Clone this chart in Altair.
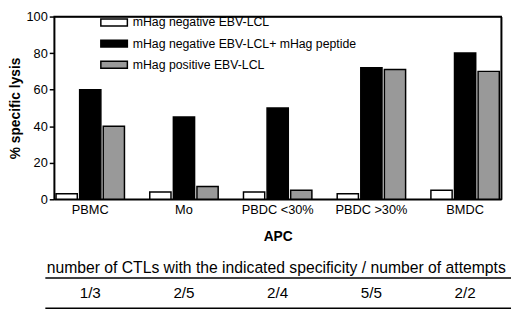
import altair as alt
import pandas as pd

categories = ["PBMC", "Mo", "PBDC <30%", "PBDC >30%", "BMDC"]
series = ["mHag negative EBV-LCL", "mHag negative EBV-LCL+ mHag peptide", "mHag positive EBV-LCL"]
neg_lcl = [3, 4, 4, 3, 5]
neg_lcl_peptide = [60, 45, 50, 72, 80]
pos_lcl = [40, 7, 5, 71, 70]
ctl_counts = ["1/3", "2/5", "2/4", "5/5", "2/2"]
y_ticks = [0, 20, 40, 60, 80, 100]
header = "number of CTLs with the indicated specificity / number of attempts"
colors = ["white", "black", "#999999"]

rows = []
for s, vals in zip(series, [neg_lcl, neg_lcl_peptide, pos_lcl]):
    for c, v in zip(categories, vals):
        rows.append({"APC": c, "series": s, "lysis": v})
df = pd.DataFrame(rows)
ctl_df = pd.DataFrame({"APC": categories, "ctl": ctl_counts})
head_df = pd.DataFrame({"t": [header]})

FONT = "Liberation Sans"
W, H = 455, 186

x_scale = alt.Scale(domain=categories, paddingInner=0.27, paddingOuter=0.02)
y_scale = alt.Scale(domain=[0, 100])
x_axis = alt.Axis(title="APC", labelAngle=0, ticks=False, labelPadding=4,
                  titlePadding=14, labelFontSize=13, titleFontSize=14,
                  titleFontWeight="bold", domainWidth=1.5, domainColor="black",
                  labelColor="black", titleColor="black", grid=False)
y_axis = alt.Axis(title="% specific lysis", values=y_ticks, tickSize=5,
                  labelPadding=2, titlePadding=4, labelFontSize=13,
                  titleFontSize=14, titleFontWeight="bold", domainWidth=1.5,
                  tickWidth=1.5, domainColor="black", tickColor="black",
                  labelColor="black", titleColor="black", grid=False)
frame_axis = alt.Axis(orient="right", title=None, labels=False, ticks=False,
                      values=[100], grid=True, gridColor="black", gridWidth=1.5,
                      gridOpacity=1, domain=True, domainColor="black", domainWidth=1.5)

bars = alt.Chart(df).mark_bar(stroke="black", strokeWidth=1.5).encode(
    x=alt.X("APC:N", sort=categories, scale=x_scale, axis=x_axis),
    xOffset=alt.XOffset("series:N", sort=series,
                        scale=alt.Scale(domain=series, paddingInner=0.1, paddingOuter=0)),
    y=alt.Y("lysis:Q", scale=y_scale, axis=y_axis),
    fill=alt.Fill("series:N", sort=series,
                  scale=alt.Scale(domain=series, range=colors),
                  legend=alt.Legend(title=None, orient="none", legendX=50, legendY=-5,
                                    symbolType="M-1.35,-0.35H1.35V0.35H-1.35Z",
                                    symbolSize=400, symbolStrokeColor="black",
                                    symbolStrokeWidth=1.5, labelFontSize=12.5,
                                    labelOffset=8, rowPadding=3.5, labelColor="black",
                                    labelLimit=400, labelFont=FONT)),
)

frame = alt.Chart(head_df).mark_point(opacity=0).encode(
    x=alt.value(0),
    y=alt.Y(datum=0, type="quantitative", scale=y_scale, axis=frame_axis),
)

ctl_text = alt.Chart(ctl_df).mark_text(fontSize=15.5, font=FONT, color="black").encode(
    x=alt.X("APC:N", sort=categories, scale=x_scale, axis=x_axis),
    y=alt.value(281),
    text="ctl:N",
)

head_text = alt.Chart(head_df).mark_text(fontSize=16, font=FONT, color="black").encode(
    x=alt.value(226), y=alt.value(256), text="t:N"
)

rule1 = alt.Chart(head_df).mark_rule(strokeWidth=1.5, color="black").encode(
    x=alt.value(-9), x2=alt.value(465), y=alt.value(266)
)
rule2 = alt.Chart(head_df).mark_rule(strokeWidth=1.5, color="black").encode(
    x=alt.value(-9), x2=alt.value(465), y=alt.value(297)
)

chart = alt.layer(bars, frame, ctl_text, head_text, rule1, rule2).resolve_axis(
    y="independent"
).properties(
    width=W, height=H, padding={"left": 0, "top": 0, "right": 0, "bottom": 0}
).configure(
    font=FONT,
    view=alt.ViewConfig(stroke="black", strokeWidth=1.5),
    axis=alt.AxisConfig(labelFont=FONT, titleFont=FONT),
)

chart.save("out.html", embed_options={"renderer": "svg", "actions": False})
